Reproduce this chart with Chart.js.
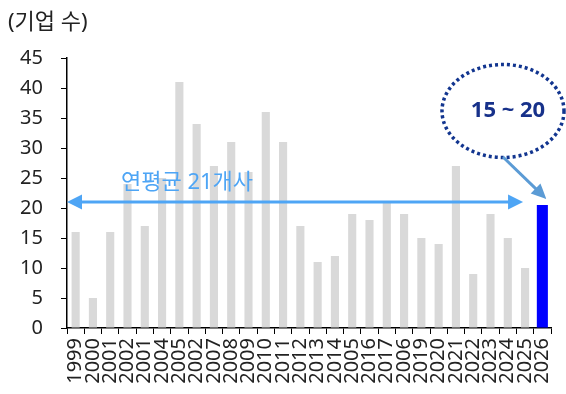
<!DOCTYPE html>
<html>
<head>
<meta charset="utf-8">
<script src="https://cdn.jsdelivr.net/npm/chart.js@4/dist/chart.umd.min.js"></script>
<style>
  html, body { margin: 0; padding: 0; background: #fff; }
  #wrap { width: 566px; height: 394px; position: relative; }
</style>
</head>
<body>
<div id="wrap"><canvas id="c"></canvas></div>
<script>
// ============ DATA ============
// x 라벨은 원본 그림에 찍힌 그대로 (중복 포함)
const labels = ['1999','2000','2001','2002','2001','2004','2005','2002','2007','2008','2009','2010','2011','2012',
  '2013','2014','2005','2016','2017','2006','2019','2020','2021','2022','2023','2024','2025','2026'];
const actual = [16, 5, 16, 24, 17, 25, 41, 34, 27, 31, 26, 36, 31, 17,
  11, 12, 19, 18, 21, 19, 15, 14, 27, 9, 19, 15, 10, null];
const forecast = [null, null, null, null, null, null, null, null, null, null, null, null, null, null,
  null, null, null, null, null, null, null, null, null, null, null, null, null, 20.5];
const avgValue = 21;
const avgLabel = '연평균 21개사';
const forecastLabel = '15 ~ 20';
const unitLabel = '(기업 수)';
const yTicks = { min: 0, max: 45, step: 5 };

const FONT = "'Noto Sans', 'Noto Sans CJK KR', sans-serif";
const TXT = '#222';
const AVG_COL = '#4ea5f5';

function arrowHead(ctx, x, y, ang, len, half) {
  ctx.beginPath();
  ctx.moveTo(x, y);
  ctx.lineTo(x - len * Math.cos(ang) + half * Math.sin(ang), y - len * Math.sin(ang) - half * Math.cos(ang));
  ctx.lineTo(x - len * Math.cos(ang) - half * Math.sin(ang), y - len * Math.sin(ang) + half * Math.cos(ang));
  ctx.closePath();
  ctx.fill();
}

const notes = {
  id: 'notes',
  afterDatasetsDraw(chart) {
    const { ctx, chartArea, scales: { x, y } } = chart;
    ctx.save();

    // 단위
    ctx.fillStyle = TXT;
    ctx.font = `22px ${FONT}`;
    ctx.textAlign = 'left'; ctx.textBaseline = 'middle';
    ctx.fillText(unitLabel, 8, 23);

    // 연평균 화살표
    const ya = y.getPixelForValue(avgValue);
    const x0 = chartArea.left, x1 = x.getPixelForValue(26) - 2;
    ctx.strokeStyle = AVG_COL; ctx.fillStyle = AVG_COL; ctx.lineWidth = 3;
    ctx.beginPath(); ctx.moveTo(x0 + 10, ya); ctx.lineTo(x1 - 10, ya); ctx.stroke();
    arrowHead(ctx, x0, ya, Math.PI, 15, 7.5);
    arrowHead(ctx, x1, ya, 0, 15, 7.5);
    ctx.font = `22px ${FONT}`;
    ctx.textAlign = 'center';
    ctx.fillText(avgLabel, 187, 183);

    // 전망 말풍선
    const cx = 503, cy = 111;
    ctx.strokeStyle = '#12358f'; ctx.lineWidth = 3.5;
    ctx.setLineDash([3, 3]);
    ctx.beginPath(); ctx.ellipse(cx, cy, 61, 46.5, 0, 0, Math.PI * 2); ctx.stroke();
    ctx.setLineDash([]);
    ctx.fillStyle = '#17318a';
    ctx.font = `bold 22px ${FONT}`;
    ctx.fillText(forecastLabel, cx + 5, cy);

    const tx = x.getPixelForValue(27) + 4, ty = y.getPixelForValue(forecast[27]) - 6;
    const sx = cx, sy = cy + 46;
    const ang = Math.atan2(ty - sy, tx - sx);
    ctx.strokeStyle = '#5b9bd5'; ctx.fillStyle = '#5b9bd5'; ctx.lineWidth = 3;
    ctx.beginPath(); ctx.moveTo(sx, sy);
    ctx.lineTo(tx - 12 * Math.cos(ang), ty - 12 * Math.sin(ang)); ctx.stroke();
    arrowHead(ctx, tx, ty, ang, 15, 7);

    ctx.restore();
  }
};

new Chart(document.getElementById('c'), {
  type: 'bar',
  data: {
    labels,
    datasets: [
      { data: actual, backgroundColor: '#d9d9d9', barPercentage: 0.47, categoryPercentage: 1, grouped: false },
      { data: forecast, backgroundColor: '#0000ff', barPercentage: 0.64, categoryPercentage: 1, grouped: false },
    ],
  },
  options: {
    responsive: true, maintainAspectRatio: false, animation: false,
    layout: { padding: { top: 58, right: 15, left: 0, bottom: 0 } },
    plugins: { legend: { display: false }, tooltip: { enabled: false } },
    scales: {
      x: {
        afterFit: s => { s.height = 66; s.paddingLeft = 0; s.paddingRight = 0; },
        grid: { drawOnChartArea: false, drawTicks: true, tickLength: 6, color: '#000', offset: true },
        border: { color: '#000', width: 1.5 },
        ticks: { color: TXT, font: { family: FONT, size: 20 }, minRotation: 90, maxRotation: 90, autoSkip: false, padding: 4 },
      },
      y: {
        min: yTicks.min, max: yTicks.max,
        afterFit: s => { s.width = 67; },
        grid: { drawOnChartArea: false, drawTicks: true, tickLength: 6, color: '#000' },
        border: { color: '#000', width: 1.5 },
        ticks: { stepSize: yTicks.step, color: TXT, font: { family: FONT, size: 20 }, padding: 18 },
      },
    },
  },
  plugins: [notes],
});
</script>
</body>
</html>
